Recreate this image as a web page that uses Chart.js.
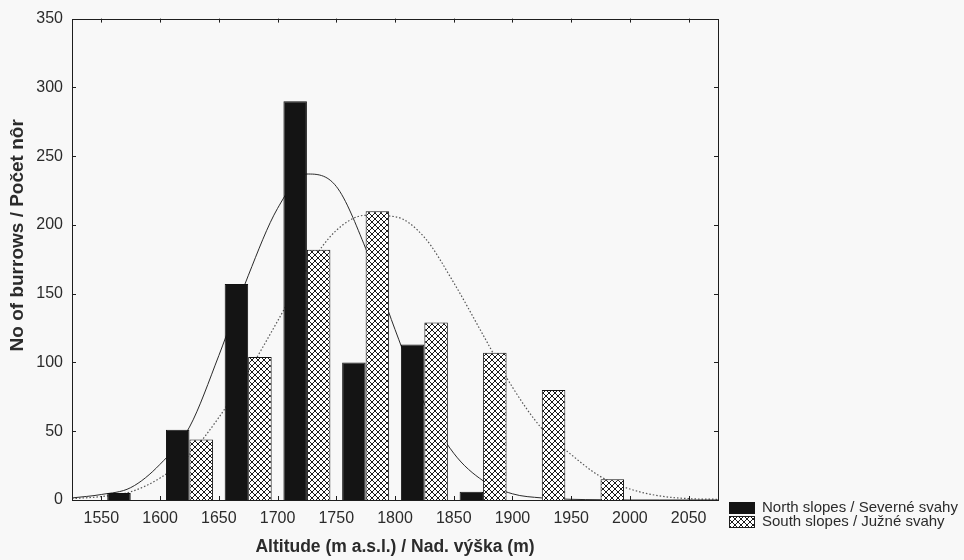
<!DOCTYPE html>
<html>
<head>
<meta charset="utf-8">
<title>Burrows by altitude</title>
<script src="https://cdn.jsdelivr.net/npm/chart.js@4.4.1/dist/chart.umd.min.js"></script>
<style>
  html, body { margin: 0; padding: 0; background: #f8f8f8; }
  #wrap { width: 964px; height: 560px; }
</style>
</head>
<body>
<div id="wrap"><canvas id="burrowChart" width="964" height="560"></canvas></div>
<script>
// 50 m altitude bins, bars sit at the bin centres
const binCenters = [1575, 1625, 1675, 1725, 1775, 1825, 1875, 1925, 1975, 2025];
const northBurrows = [5, 51, 157, 290, 100, 113, 6, null, null, null];
const southBurrows = [null, 44, 104, 182, 210, 129, 107, 80, 15, null];

// fitted curves
const fitAltitudes = [1525, 1550, 1575, 1600, 1625, 1650, 1675, 1700, 1725, 1750, 1775, 1800,
    1825, 1850, 1875, 1900, 1925, 1950, 1975, 2000, 2025, 2050, 2075];
const northFit = [1.5, 4, 9, 26, 53, 105, 163, 212, 237, 228, 183, 124,
    70, 34, 14, 4.5, 1.5, 0.5, 0.2, 0, 0, 0, 0];
const southFit = [1, 2.5, 6, 16, 33, 60, 93, 130, 168, 196, 207, 206,
    191, 158, 120, 82, 52, 33, 17, 8, 3, 1, 0.5];

const xTicks = [1550, 1600, 1650, 1700, 1750, 1800, 1850, 1900, 1950, 2000, 2050];

const legendItems = ['North slopes / Severné svahy', 'South slopes / Južné svahy'];
const xTitle = 'Altitude (m a.s.l.) / Nad. výška (m)';
const yTitle = 'No of burrows / Počet nôr';

const fontFamily = '"Liberation Sans", Arial, sans-serif';
const textColor = '#2b2b2b';
const frameColor = '#1e1e1e';

const canvas = document.getElementById('burrowChart');
const ctx = canvas.getContext('2d');

function crossHatch() {
    const tile = document.createElement('canvas');
    tile.width = 6;
    tile.height = 6;
    const g = tile.getContext('2d');
    g.fillStyle = '#ffffff';
    g.fillRect(0, 0, 6, 6);
    g.strokeStyle = '#1a1a1a';
    g.lineWidth = 1;
    g.beginPath();
    g.moveTo(-1, -1); g.lineTo(7, 7);
    g.moveTo(7, -1); g.lineTo(-1, 7);
    g.stroke();
    return ctx.createPattern(tile, 'repeat');
}

const hatch = crossHatch();

const pageBackground = {
    id: 'pageBackground',
    beforeDraw(chart) {
        const c = chart.ctx;
        c.save();
        c.fillStyle = '#f8f8f8';
        c.fillRect(0, 0, chart.width, chart.height);
        c.restore();
    }
};

// box round the plot with short inward ticks on all four sides
const frameTicks = {
    id: 'frameTicks',
    afterDatasetsDraw(chart) {
        const c = chart.ctx;
        const { left, right, top, bottom } = chart.chartArea;
        const xs = chart.scales.x;
        const ys = chart.scales.y;
        c.save();
        c.strokeStyle = frameColor;
        c.lineWidth = 1;
        c.strokeRect(Math.round(left) + 0.5, Math.round(top) + 0.5,
            Math.round(right - left), Math.round(bottom - top));
        c.beginPath();
        xs.ticks.forEach((t, i) => {
            const px = Math.round(xs.getPixelForTick(i)) + 0.5;
            c.moveTo(px, bottom); c.lineTo(px, bottom - 4);
            c.moveTo(px, top); c.lineTo(px, top + 4);
        });
        ys.ticks.forEach((t, i) => {
            const py = Math.round(ys.getPixelForTick(i)) + 0.5;
            c.moveTo(left, py); c.lineTo(left + 4, py);
            c.moveTo(right, py); c.lineTo(right - 4, py);
        });
        c.stroke();
        c.restore();
    }
};

// y title sits a little above the middle of the axis in the original
const yAxisTitle = {
    id: 'yAxisTitle',
    afterDraw(chart) {
        const c = chart.ctx;
        const { top, bottom } = chart.chartArea;
        c.save();
        c.translate(18, (top + bottom) / 2 - 24);
        c.rotate(-Math.PI / 2);
        c.fillStyle = textColor;
        c.font = 'bold 19px ' + fontFamily;
        c.textAlign = 'center';
        c.textBaseline = 'middle';
        c.fillText(yTitle, 0, 0);
        c.restore();
    }
};

const sideLegend = {
    id: 'sideLegend',
    afterDraw(chart) {
        const c = chart.ctx;
        const x = chart.chartArea.right + 11;
        const y = chart.chartArea.bottom + 2;
        c.save();
        c.fillStyle = '#141414';
        c.fillRect(x, y, 26, 12);
        c.fillStyle = hatch;
        c.fillRect(x, y + 14, 26, 12);
        c.strokeStyle = frameColor;
        c.lineWidth = 1;
        c.strokeRect(x + 0.5, y + 14.5, 25, 11);
        c.fillStyle = textColor;
        c.font = '15px ' + fontFamily;
        c.textBaseline = 'middle';
        c.fillText(legendItems[0], x + 33, y + 6);
        c.fillText(legendItems[1], x + 33, y + 20);
        c.restore();
    }
};

new Chart(ctx, {
    data: {
        datasets: [{
            type: 'bar',
            label: legendItems[0],
            data: binCenters.map((x, i) => ({ x: x, y: northBurrows[i] })),
            backgroundColor: '#141414',
            borderColor: '#111111',
            borderWidth: 1,
            categoryPercentage: 0.8,
            barPercentage: 1.0,
            order: 0
        }, {
            type: 'bar',
            label: legendItems[1],
            data: binCenters.map((x, i) => ({ x: x, y: southBurrows[i] })),
            backgroundColor: hatch,
            borderColor: '#111111',
            borderWidth: 1,
            categoryPercentage: 0.8,
            barPercentage: 1.0,
            order: 0
        }, {
            type: 'line',
            label: 'North fit',
            data: fitAltitudes.map((x, i) => ({ x: x, y: northFit[i] })),
            borderColor: '#2a2a2a',
            borderWidth: 1,
            pointRadius: 0,
            cubicInterpolationMode: 'monotone',
            order: 5
        }, {
            type: 'line',
            label: 'South fit',
            data: fitAltitudes.map((x, i) => ({ x: x, y: southFit[i] })),
            borderColor: '#555555',
            borderWidth: 1.2,
            borderDash: [1.5, 2],
            pointRadius: 0,
            cubicInterpolationMode: 'monotone',
            order: 5
        }]
    },
    options: {
        responsive: false,
        animation: false,
        devicePixelRatio: 1,
        layout: { padding: { top: 18, right: 246, left: 0, bottom: 0 } },
        plugins: {
            legend: { display: false },
            tooltip: { enabled: false }
        },
        scales: {
            x: {
                type: 'linear',
                offset: false,
                min: 1525,
                max: 2075,
                afterBuildTicks: (axis) => {
                    axis.ticks = xTicks.map(v => ({ value: v }));
                },
                afterFit: (axis) => { axis.height = 60; },
                grid: { display: false, drawTicks: false, offset: false },
                border: { display: false },
                ticks: {
                    padding: 9,
                    color: textColor,
                    font: { family: fontFamily, size: 16 },
                    callback: (v) => String(v)
                },
                title: {
                    display: true,
                    text: xTitle,
                    color: textColor,
                    font: { family: fontFamily, size: 17.5, weight: 'bold' },
                    padding: { top: 0, bottom: 2 }
                }
            },
            y: {
                min: 0,
                max: 350,
                afterFit: (axis) => { axis.width = 72; },
                grid: { display: false, drawTicks: false },
                border: { display: false },
                ticks: {
                    stepSize: 50,
                    padding: 9,
                    color: textColor,
                    font: { family: fontFamily, size: 16 }
                }
            }
        }
    },
    plugins: [pageBackground, frameTicks, yAxisTitle, sideLegend]
});
</script>
</body>
</html>
